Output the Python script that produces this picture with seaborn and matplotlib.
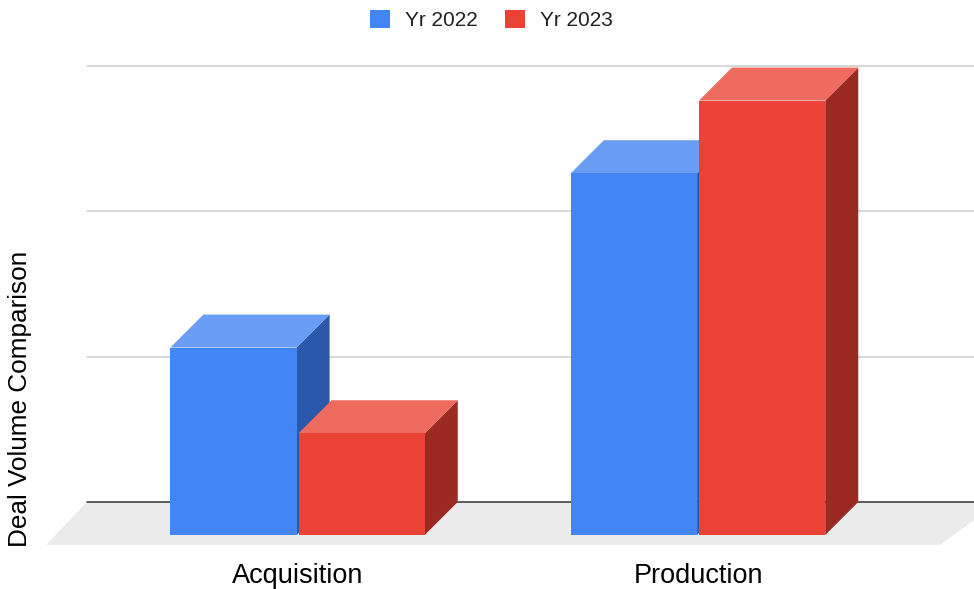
import matplotlib
matplotlib.use("Agg")
import matplotlib.pyplot as plt
from matplotlib.patches import Polygon, Patch
import pandas as pd
import seaborn as sns

# chart values (no y tick labels in the original, read in gridline units)
categories = ["Acquisition", "Production"]
series = ["Yr 2022", "Yr 2023"]
values_2022 = [1.29, 2.49]
values_2023 = [0.70, 2.99]
gridlines = [0, 1, 2, 3]

front_colors = ["#4285F4", "#EA4335"]
top_colors = ["#6A9EF6", "#EE6B5F"]
side_colors = ["#2B58AA", "#9A2A22"]

df = pd.DataFrame({
    "category": categories * 2,
    "series": [series[0]] * 2 + [series[1]] * 2,
    "value": values_2022 + values_2023,
})

sns.set_theme(style="white")
plt.rcParams["font.family"] = ["Liberation Sans", "DejaVu Sans"]

fig = plt.figure(figsize=(9.74, 5.89), dpi=100)
ax = fig.add_axes([0, 0, 1, 1])

sns.barplot(data=df, x="category", y="value", hue="series", order=categories,
            hue_order=series, palette=front_colors, saturation=1, width=0.64, gap=0.015,
            linewidth=0, ax=ax, legend=False, zorder=4)

# map the axes so one category step ~400px and one unit ~145px
ax.set_xlim(-0.743, 1.689)
ax.set_ylim(-0.372, 3.682)
ax.axis("off")

dx, dy = 0.0824, 0.227  # depth offset of the 3d look

# floor
ax.add_patch(Polygon([(-0.628, -0.069), (-0.526, dy), (1.75, dy), (1.604, -0.069)],
                     closed=True, facecolor="#EBEBEB", edgecolor="none", zorder=0))

# back wall grid
for g in gridlines:
    ax.plot([-0.526, 1.75], [g + dy, g + dy],
            color="#333333" if g == 0 else "#CCCCCC", lw=1.1, zorder=1)

# side and top faces from the bar patches
for i, bar in enumerate(ax.patches[:4]):
    si = i // 2
    x0 = bar.get_x()
    x1 = x0 + bar.get_width()
    h = bar.get_height()
    ax.add_patch(Polygon([(x1, 0), (x1 + dx, dy), (x1 + dx, h + dy), (x1, h)],
                         closed=True, facecolor=side_colors[si], edgecolor="none", zorder=2))
    ax.add_patch(Polygon([(x0, h), (x1, h), (x1 + dx, h + dy), (x0 + dx, h + dy)],
                         closed=True, facecolor=top_colors[si], edgecolor="none", zorder=3))

# category labels
trans = matplotlib.transforms.blended_transform_factory(ax.transData, fig.transFigure)
for i, c in enumerate(categories):
    ax.text(i, 1 - 576 / 589, c, transform=trans, ha="center", va="center",
            fontsize=19.5, color="#000000")

fig.text(20 / 974, 1 - 399 / 589, "Deal Volume Comparison", rotation=90,
         ha="center", va="center", fontsize=18.8, color="#000000")

handles = [Patch(facecolor=front_colors[i], edgecolor="none", label=s) for i, s in enumerate(series)]
fig.legend(handles=handles, loc="center", bbox_to_anchor=(0.5046, 1 - 20 / 589), ncol=2,
           frameon=False, fontsize=15, handlelength=0.96, handleheight=0.96,
           handletextpad=0.72, columnspacing=1.3, labelcolor="#222222")

fig.savefig("out.png", dpi=100, facecolor="white")
